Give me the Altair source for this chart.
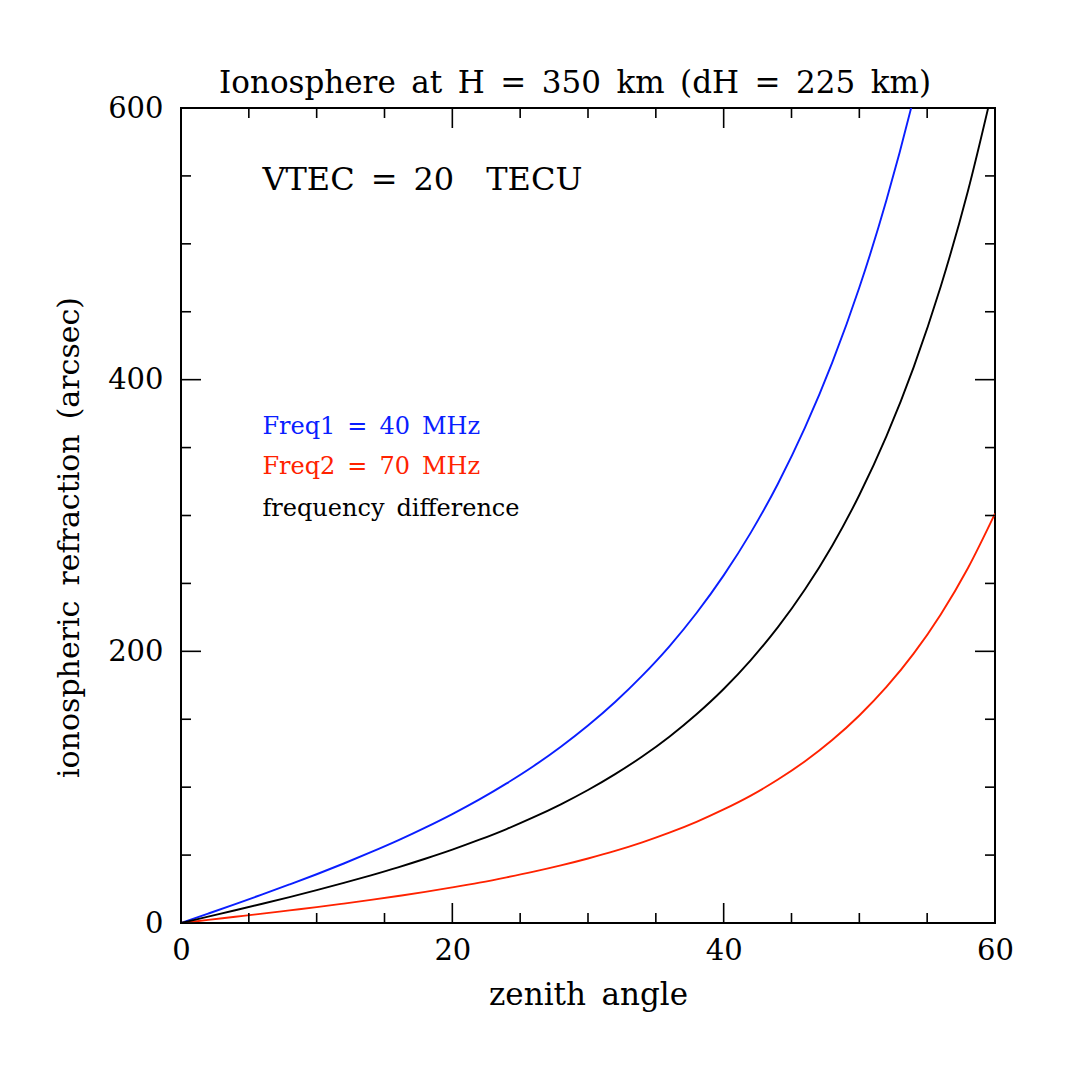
import altair as alt
import pandas as pd

# zenith angle (deg)
zenith = [0, 2, 4, 6, 8, 10, 12, 14, 16, 18, 20, 22, 24, 26, 28, 30,
          32, 34, 36, 38, 40, 42, 44, 46, 48, 50, 52, 54, 56, 58, 60]
# ionospheric refraction (arcsec)
freq1_40mhz = [0, 6.9, 13.9, 21.1, 28.4, 35.9, 43.8, 52.1, 60.8, 70.2, 80.2,
               91.0, 102.8, 115.6, 129.8, 145.4, 162.7, 182.1, 203.7, 228.2,
               255.9, 287.4, 323.4, 364.8, 412.5, 467.8, 532.2, 607.4, 695.8,
               799.9, 923.0]
freq2_70mhz = [0, 2.3, 4.6, 6.9, 9.3, 11.7, 14.3, 17.0, 19.9, 22.9, 26.2,
               29.7, 33.6, 37.8, 42.4, 47.5, 53.1, 59.4, 66.5, 74.5, 83.6,
               93.8, 105.6, 119.1, 134.7, 152.8, 173.8, 198.3, 227.2, 261.2,
               301.4]
difference = [0, 4.7, 9.4, 14.2, 19.1, 24.2, 29.5, 35.1, 41.0, 47.3, 54.0,
              61.3, 69.2, 77.9, 87.4, 97.9, 109.6, 122.6, 137.2, 153.7, 172.3,
              193.6, 217.8, 245.7, 277.8, 315.1, 358.4, 409.1, 468.6, 538.7,
              621.6]

SP = "\u2002"  # en space, the original font spaces widely
series_names = ["Freq1 = 40 MHz", "Freq2 = 70 MHz", "frequency difference"]
series_labels = [s.replace(" ", SP) for s in series_names]
series_colors = ["#0a1eff", "#ff2200", "#000000"]

x_major = [0, 20, 40, 60]
x_minor = [5, 10, 15, 25, 30, 35, 45, 50, 55]
y_major = [0, 200, 400, 600]
y_minor = [50, 100, 150, 250, 300, 350, 450, 500, 550]

# annotation positions in data units
label_x = [6, 6, 6]
label_y = [365, 336, 305]
vtec_text = ["VTEC" + SP + "=" + SP + "20" + SP + SP + "TECU"]
vtec_x = [6]
vtec_y = [547]

title_text = "Ionosphere at H = 350 km (dH = 225 km)".replace(" ", SP)
x_title = "zenith angle".replace(" ", SP)
y_title = "ionospheric refraction (arcsec)".replace(" ", SP)

FONT = "DejaVu Serif"
W, H = 814, 815

rows = []
for name, vals in zip(series_names, [freq1_40mhz, freq2_70mhz, difference]):
    for z, v in zip(zenith, vals):
        rows.append({"zenith": z, "refraction": v, "series": name})
df = pd.DataFrame(rows)

xs = alt.Scale(domain=[0, 60], nice=False, zero=False)
ys = alt.Scale(domain=[0, 600], nice=False, zero=False)
x_axis = alt.Axis(values=x_major, ticks=False, domain=False, grid=False, labelFlush=False,
                  labelFont=FONT, labelFontSize=29, labelPadding=13, labelColor="black",
                  title=x_title, titleFont=FONT, titleFontSize=31,
                  titleFontWeight="normal", titlePadding=15, titleColor="black")
y_axis = alt.Axis(values=y_major, ticks=False, domain=False, grid=False, labelFlush=False,
                  labelFont=FONT, labelFontSize=29, labelPadding=18, labelColor="black",
                  title=y_title, titleFont=FONT, titleFontSize=30,
                  titleFontWeight="normal", titlePadding=23, titleColor="black",
                  titleY=429)
color = alt.Color("series:N", scale=alt.Scale(domain=series_names, range=series_colors), legend=None)

lines = alt.Chart(df).mark_line(strokeWidth=1.9, clip=True, interpolate="monotone").encode(
    x=alt.X("zenith:Q", scale=xs, axis=x_axis, title=x_title),
    y=alt.Y("refraction:Q", scale=ys, axis=y_axis, title=y_title),
    color=color,
    detail="series:N",
)

def tick_layer(vals, orient, length):
    d = pd.DataFrame({"pos": vals})
    base = alt.Chart(d).mark_rule(color="black", strokeWidth=1.6)
    if orient == "bottom":
        return base.encode(x=alt.X("pos:Q", scale=xs, axis=x_axis, title=x_title), y=alt.value(H), y2=alt.value(H - length))
    if orient == "top":
        return base.encode(x=alt.X("pos:Q", scale=xs, axis=x_axis, title=x_title), y=alt.value(0), y2=alt.value(length))
    if orient == "left":
        return base.encode(y=alt.Y("pos:Q", scale=ys, axis=y_axis, title=y_title), x=alt.value(0), x2=alt.value(length))
    return base.encode(y=alt.Y("pos:Q", scale=ys, axis=y_axis, title=y_title), x=alt.value(W), x2=alt.value(W - length))

ticks = []
for o in ["bottom", "top"]:
    ticks.append(tick_layer(x_major, o, 20))
    ticks.append(tick_layer(x_minor, o, 10))
for o in ["left", "right"]:
    ticks.append(tick_layer(y_major, o, 20))
    ticks.append(tick_layer(y_minor, o, 10))

lab_df = pd.DataFrame({"x": label_x, "y": label_y, "series": series_names, "label": series_labels})
labels = alt.Chart(lab_df).mark_text(align="left", baseline="middle", font=FONT, fontSize=24).encode(
    x=alt.X("x:Q", scale=xs, axis=x_axis, title=x_title),
    y=alt.Y("y:Q", scale=ys, axis=y_axis, title=y_title),
    text="label:N",
    color=color,
)

vt_df = pd.DataFrame({"x": vtec_x, "y": vtec_y, "t": vtec_text})
vtec = alt.Chart(vt_df).mark_text(align="left", baseline="middle", font=FONT, fontSize=32, color="black").encode(
    x=alt.X("x:Q", scale=xs, axis=x_axis, title=x_title),
    y=alt.Y("y:Q", scale=ys, axis=y_axis, title=y_title),
    text="t:N",
)

chart = alt.layer(lines, *ticks, labels, vtec).properties(
    width=W, height=H,
    title=alt.TitleParams(title_text, font=FONT, fontSize=31,
                          fontWeight="normal", color="black", offset=-6, dx=-13),
    autosize=alt.AutoSizeParams(type="none"),
    padding={"left": 173, "top": 100, "right": 70, "bottom": 150},
).configure_view(stroke="black", strokeWidth=2)

chart.save("out.html", embed_options={"renderer": "svg", "actions": False})
